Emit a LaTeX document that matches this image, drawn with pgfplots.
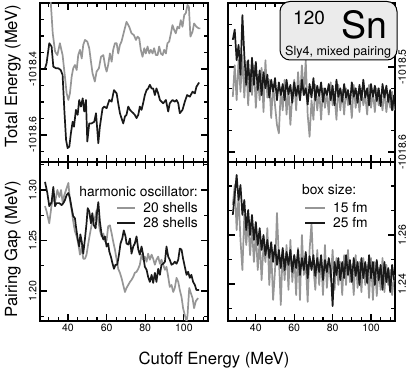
\documentclass[border=0pt]{standalone}
\usepackage{pgfplots}
\pgfplotsset{compat=1.18}
\usepackage{fontspec}
\setmainfont{TeX Gyre Heros}
\definecolor{lgray}{RGB}{150,150,150}
\definecolor{dblack}{RGB}{25,25,25}
\definecolor{boxfill}{RGB}{235,235,235}

\pgfplotsset{
  panel/.style={
    scale only axis, height=159bp, anchor=north west,
    xmin=25.5, xmax=112.5,
    axis line style={line width=1.3bp},
    tick align=inside,
    xtick={40,60,80,100},
    minor xtick={30,35,45,50,55,65,70,75,85,90,95,105,110},
    major tick length=7bp, minor tick length=4bp,
    tick style={line width=1.1bp, black},
    ticklabel style={font=\fontsize{10.5bp}{12bp}\selectfont},
    every axis plot/.append style={line width=1.7bp, line join=round, no markers},
  },
  leftp/.style={yticklabel pos=left, yticklabel style={rotate=90, anchor=south}, xtick pos=both, ytick pos=both},
  rightp/.style={yticklabel pos=right, yticklabel style={rotate=90, anchor=north}, xtick pos=both, ytick pos=both},
  gr/.style={lgray},
  bk/.style={dblack},
}

\begin{document}
\begin{tikzpicture}
\path[use as bounding box] (0,0) rectangle (415bp,370bp);

% top left: total energy, harmonic oscillator basis
\begin{axis}[panel, leftp, at={(40bp,367bp)}, width=168bp,
  ymin=-1018.682, ymax=-1018.2,
  ytick={-1018.6,-1018.4}, yticklabels={-1018.6,-1018.4},
  minor ytick={-1018.65,-1018.55,-1018.5,-1018.45,-1018.35,-1018.3,-1018.25},
  xticklabels={}]
\addplot[gr] coordinates {
(30.5,-1018.05) (31.0,-1018.191) (32.1,-1018.292) (33.3,-1018.347) (34.5,-1018.358)
(35.8,-1018.322) (37.2,-1018.358) (38.4,-1018.423) (39.3,-1018.474) (40.2,-1018.494)
(41.0,-1018.474) (41.9,-1018.423) (42.7,-1018.398) (43.6,-1018.388) (44.5,-1018.403)
(45.3,-1018.358) (46.2,-1018.342) (47.1,-1018.368) (47.9,-1018.327) (48.8,-1018.312)
(50.0,-1018.317) (51.0,-1018.337) (51.9,-1018.378) (52.7,-1018.413) (53.9,-1018.438)
(54.8,-1018.408) (56.0,-1018.398) (57.1,-1018.363) (58.3,-1018.358) (59.3,-1018.393)
(60.0,-1018.408) (60.8,-1018.388) (61.7,-1018.353) (62.6,-1018.378) (63.4,-1018.342)
(64.3,-1018.322) (65.2,-1018.322) (66.0,-1018.353) (66.9,-1018.327) (67.7,-1018.317)
(69.0,-1018.287) (70.3,-1018.257) (71.7,-1018.272) (72.9,-1018.292) (74.1,-1018.297)
(75.2,-1018.312) (76.0,-1018.302) (76.9,-1018.307) (77.7,-1018.342) (78.6,-1018.363)
(79.5,-1018.337) (80.3,-1018.353) (81.2,-1018.332) (82.1,-1018.353) (82.9,-1018.342)
(83.8,-1018.353) (84.6,-1018.337) (85.5,-1018.358) (86.4,-1018.358) (87.2,-1018.332)
(88.1,-1018.353) (89.0,-1018.358) (89.8,-1018.342) (90.7,-1018.353) (91.5,-1018.322)
(92.4,-1018.317) (93.3,-1018.292) (94.1,-1018.267) (95.0,-1018.282) (95.8,-1018.292)
(96.7,-1018.272) (97.6,-1018.277) (98.4,-1018.252) (99.3,-1018.272) (100.2,-1018.236)
(101.0,-1018.231) (101.9,-1018.206) (102.6,-1018.211) (103.4,-1018.302) (104.5,-1018.287)
(105.3,-1018.262) (106.5,-1018.272) (107.7,-1018.277) (108.6,-1018.277)
};
\addplot[bk] coordinates {
(28.1,-1018.398) (28.9,-1018.383) (30.3,-1018.322) (31.5,-1018.332) (32.4,-1018.393)
(33.8,-1018.398) (35.0,-1018.398) (36.2,-1018.403) (37.2,-1018.418) (38.1,-1018.524)
(39.0,-1018.615) (39.8,-1018.640) (40.7,-1018.635) (41.5,-1018.595) (42.4,-1018.560)
(43.1,-1018.575) (44.1,-1018.524) (45.0,-1018.539) (45.8,-1018.494) (46.7,-1018.514)
(47.6,-1018.489) (48.4,-1018.529) (49.3,-1018.494) (50.0,-1018.620) (51.0,-1018.565)
(52.2,-1018.565) (53.6,-1018.560) (54.5,-1018.534) (55.7,-1018.625) (56.5,-1018.575)
(57.9,-1018.519) (58.8,-1018.514) (60.0,-1018.519) (61.4,-1018.494) (62.6,-1018.499)
(63.8,-1018.464) (65.2,-1018.474) (66.0,-1018.504) (66.9,-1018.534) (67.7,-1018.549)
(68.6,-1018.565) (69.5,-1018.544) (70.3,-1018.539) (71.2,-1018.514) (72.1,-1018.524)
(72.9,-1018.529) (73.8,-1018.534) (74.6,-1018.539) (75.5,-1018.549) (76.4,-1018.539)
(77.2,-1018.514) (78.1,-1018.524) (78.9,-1018.504) (79.8,-1018.479) (80.7,-1018.464)
(81.5,-1018.459) (82.4,-1018.448) (83.3,-1018.459) (84.1,-1018.459) (85.0,-1018.479)
(85.8,-1018.459) (86.7,-1018.474) (87.6,-1018.494) (89.3,-1018.504) (90.7,-1018.494)
(91.9,-1018.529) (92.7,-1018.504) (94.1,-1018.494) (95.3,-1018.499) (96.2,-1018.494)
(97.1,-1018.504) (97.9,-1018.534) (99.3,-1018.524) (100.5,-1018.499) (101.7,-1018.479)
(103.1,-1018.484) (104.5,-1018.469) (105.7,-1018.474) (106.5,-1018.454) (107.9,-1018.441)
};
\end{axis}

% top right: total energy, box
\begin{axis}[panel, rightp, at={(228bp,367bp)}, width=167bp,
  ymin=-1018.6117, ymax=-1018.4247,
  ytick={-1018.6,-1018.5}, yticklabels={-1018.6,-1018.5},
  minor ytick={-1018.575,-1018.55,-1018.525,-1018.475,-1018.45},
  xticklabels={}]
\addplot[gr] coordinates {
(28,-1018.535) (29,-1018.498) (30,-1018.539) (31,-1018.492) (32,-1018.529) (33,-1018.486)
(34,-1018.536) (35,-1018.494) (36,-1018.545) (37,-1018.504) (38,-1018.533) (39,-1018.498)
(40,-1018.548) (41,-1018.509) (42,-1018.539) (43,-1018.501) (44,-1018.553) (45,-1018.492)
(46,-1018.536) (47,-1018.515) (48,-1018.560) (49,-1018.521) (50,-1018.545) (51,-1018.568)
(52,-1018.578) (53,-1018.527) (54,-1018.551) (55,-1018.515) (56,-1018.556) (57,-1018.525)
(58,-1018.568) (59,-1018.533) (60,-1018.515) (61,-1018.551) (62,-1018.506) (63,-1018.539)
(64,-1018.498) (65,-1018.533) (66,-1018.492) (67,-1018.556) (68,-1018.582) (69,-1018.539)
(70,-1018.562) (71,-1018.521) (72,-1018.551) (73,-1018.527) (74,-1018.562) (75,-1018.525)
(76,-1018.548) (77,-1018.529) (78,-1018.556) (79,-1018.518) (80,-1018.545) (81,-1018.533)
(82,-1018.562) (83,-1018.521) (84,-1018.551) (85,-1018.527) (86,-1018.556) (87,-1018.525)
(88,-1018.545) (89,-1018.533) (90,-1018.560) (91,-1018.521) (92,-1018.548) (93,-1018.529)
(94,-1018.553) (95,-1018.525) (96,-1018.545) (97,-1018.533) (98,-1018.556) (99,-1018.521)
(100,-1018.548) (101,-1018.529) (102,-1018.553) (103,-1018.525) (104,-1018.545) (105,-1018.533)
(106,-1018.551) (107,-1018.527) (108,-1018.553) (109,-1018.533) (110,-1018.548) (111,-1018.529)
(112,-1018.551)
};
\addplot[bk] coordinates {
(28,-1018.468) (29,-1018.456) (30,-1018.492) (31,-1018.474) (32,-1018.509) (33,-1018.439)
(34,-1018.486) (35,-1018.521) (36,-1018.492) (37,-1018.529) (38,-1018.489) (39,-1018.521)
(40,-1018.494) (41,-1018.527) (42,-1018.504) (43,-1018.533) (44,-1018.506) (45,-1018.525)
(46,-1018.509) (47,-1018.536) (48,-1018.515) (49,-1018.529) (50,-1018.513) (51,-1018.539)
(52,-1018.518) (53,-1018.533) (54,-1018.520) (55,-1018.539) (56,-1018.515) (57,-1018.532)
(58,-1018.521) (59,-1018.542) (60,-1018.518) (61,-1018.534) (62,-1018.522) (63,-1018.539)
(64,-1018.515) (65,-1018.533) (66,-1018.525) (67,-1018.544) (68,-1018.520) (69,-1018.536)
(70,-1018.513) (71,-1018.539) (72,-1018.522) (73,-1018.534) (74,-1018.518) (75,-1018.541)
(76,-1018.525) (77,-1018.533) (78,-1018.520) (79,-1018.539) (80,-1018.522) (81,-1018.545)
(82,-1018.515) (83,-1018.535) (84,-1018.525) (85,-1018.541) (86,-1018.520) (87,-1018.536)
(88,-1018.527) (89,-1018.544) (90,-1018.518) (91,-1018.535) (92,-1018.525) (93,-1018.542)
(94,-1018.521) (95,-1018.539) (96,-1018.515) (97,-1018.536) (98,-1018.525) (99,-1018.545)
(100,-1018.520) (101,-1018.535) (102,-1018.522) (103,-1018.540) (104,-1018.525) (105,-1018.546)
(106,-1018.520) (107,-1018.536) (108,-1018.522) (109,-1018.541) (110,-1018.527) (111,-1018.551)
(112,-1018.533)
};
\end{axis}

% bottom left: pairing gap, harmonic oscillator basis
\begin{axis}[panel, leftp, at={(40bp,208bp)}, width=168bp,
  ymin=1.1703, ymax=1.3277,
  ytick={1.20,1.25,1.30}, yticklabels={1.20,1.25,1.30},
  minor ytick={1.175,1.225,1.275,1.325},
  xticklabels={40,60,80,100}]
\addplot[gr] coordinates {
(28.1,1.284) (28.9,1.279) (30.3,1.267) (31.5,1.285) (32.4,1.292) (33.3,1.288) (34.5,1.300)
(35.5,1.293) (36.4,1.300) (37.2,1.288) (38.1,1.295) (39.0,1.300) (40.2,1.307) (41.0,1.290)
(41.9,1.280) (42.7,1.269) (43.6,1.259) (44.5,1.254) (45.3,1.247) (46.2,1.236) (47.1,1.244)
(47.9,1.232) (48.8,1.232) (49.6,1.236) (50.5,1.247) (51.4,1.257) (52.2,1.265) (53.1,1.269)
(53.9,1.272) (54.8,1.280) (55.7,1.269) (56.5,1.260) (57.4,1.254) (58.3,1.257) (59.1,1.249)
(60.0,1.250) (60.8,1.264) (61.7,1.265) (62.6,1.257) (63.4,1.249) (64.3,1.241) (65.2,1.231)
(66.0,1.222) (66.9,1.218) (67.7,1.213) (68.6,1.206) (69.5,1.199) (70.3,1.203) (71.2,1.206)
(72.1,1.209) (72.9,1.211) (73.8,1.214) (74.6,1.218) (75.5,1.219) (76.4,1.222) (77.2,1.226)
(78.1,1.236) (78.9,1.231) (79.8,1.234) (80.7,1.229) (81.5,1.237) (82.4,1.231) (83.3,1.236)
(84.1,1.232) (85.0,1.226) (85.8,1.231) (86.7,1.234) (87.6,1.227) (88.4,1.231) (89.3,1.226)
(90.2,1.221) (91.0,1.224) (91.9,1.214) (92.7,1.204) (93.6,1.206) (94.5,1.199) (95.3,1.203)
(96.2,1.213) (97.1,1.209) (97.9,1.201) (98.8,1.194) (99.6,1.183) (100.5,1.176) (101.4,1.170)
(101.9,1.176) (102.8,1.203) (103.6,1.198) (104.5,1.193) (105.3,1.183) (106.2,1.190) (107.4,1.193)
};
\addplot[bk] coordinates {
(28.1,1.308) (29.3,1.297) (30.3,1.284) (31.5,1.288) (32.4,1.303) (33.3,1.284) (34.1,1.287)
(35.5,1.287) (36.7,1.285) (37.6,1.287) (38.4,1.290) (39.3,1.295) (40.2,1.297) (41.0,1.292)
(41.9,1.282) (42.7,1.274) (43.6,1.272) (44.1,1.264) (45.0,1.252) (45.8,1.244) (46.4,1.256)
(47.1,1.249) (47.9,1.237) (48.8,1.252) (49.6,1.267) (50.2,1.282) (51.0,1.279) (51.9,1.267)
(52.6,1.277) (53.4,1.265) (54.3,1.262) (54.8,1.274) (55.7,1.288) (56.5,1.269) (57.4,1.256)
(58.3,1.251) (59.1,1.254) (60.0,1.244) (60.8,1.247) (61.4,1.239) (62.2,1.234) (63.1,1.227)
(63.8,1.222) (64.6,1.226) (65.5,1.226) (66.4,1.236) (67.2,1.247) (68.1,1.252) (68.9,1.260)
(69.8,1.254) (70.3,1.247) (71.2,1.246) (72.1,1.252) (72.9,1.237) (73.8,1.244) (74.6,1.247)
(75.5,1.254) (76.4,1.241) (77.2,1.236) (78.1,1.244) (78.9,1.236) (79.8,1.224) (80.7,1.221)
(81.5,1.214) (82.4,1.209) (83.3,1.216) (84.1,1.208) (85.0,1.218) (85.8,1.209) (86.7,1.222)
(87.6,1.216) (88.4,1.226) (89.3,1.227) (90.2,1.229) (91.0,1.244) (91.9,1.234) (92.7,1.231)
(93.6,1.226) (94.5,1.227) (95.3,1.229) (96.2,1.227) (97.1,1.231) (97.9,1.242) (98.8,1.241)
(99.6,1.232) (100.5,1.224) (101.4,1.216) (102.2,1.219) (103.1,1.213) (103.9,1.216) (104.8,1.209)
(105.7,1.206) (106.5,1.201) (107.9,1.201)
};
\end{axis}

% bottom right: pairing gap, box
\begin{axis}[panel, rightp, at={(228bp,208bp)}, width=167bp,
  ymin=1.2249, ymax=1.2898,
  ytick={1.24,1.26}, yticklabels={1.24,1.26},
  minor ytick={1.23,1.25,1.27,1.28},
  xticklabels={40,60,80,100}]
\addplot[gr] coordinates {
(28,1.2722) (29,1.2804) (30,1.2620) (31,1.2763) (32,1.2580) (33,1.2457) (34,1.2682)
(35,1.2559) (36,1.2661) (37,1.2518) (38,1.2628) (39,1.2490) (40,1.2612) (41,1.2457)
(42,1.2580) (43,1.2416) (44,1.2559) (45,1.2490) (46,1.2628) (47,1.2396) (48,1.2539)
(49,1.2335) (50,1.2457) (51,1.2690) (52,1.2506) (53,1.2314) (54,1.2539) (55,1.2416)
(56,1.2559) (57,1.2376) (58,1.2580) (59,1.2408) (60,1.2518) (61,1.2355) (62,1.2547)
(63,1.2335) (64,1.2600) (65,1.2437) (66,1.2490) (67,1.2327) (68,1.2539) (69,1.2649)
(70,1.2465) (71,1.2376) (72,1.2539) (73,1.2396) (74,1.2506) (75,1.2355) (76,1.2559)
(77,1.2384) (78,1.2490) (79,1.2416) (80,1.2539) (81,1.2376) (82,1.2506) (83,1.2396)
(84,1.2490) (85,1.2355) (86,1.2518) (87,1.2396) (88,1.2539) (89,1.2408) (90,1.2478)
(91,1.2355) (92,1.2518) (93,1.2384) (94,1.2490) (95,1.2367) (96,1.2506) (97,1.2396)
(98,1.2478) (99,1.2343) (100,1.2506) (101,1.2335) (102,1.2490) (103,1.2351) (104,1.2465)
(105,1.2376) (106,1.2506) (107,1.2367) (108,1.2478) (109,1.2396) (110,1.2457) (111,1.2355)
(112,1.2437)
};
\addplot[bk] coordinates {
(28,1.2682) (29,1.2763) (30,1.2845) (31,1.2743) (32,1.2804) (33,1.2682) (34,1.2743)
(35,1.2620) (36,1.2702) (37,1.2600) (38,1.2682) (39,1.2580) (40,1.2653) (41,1.2559)
(42,1.2628) (43,1.2539) (44,1.2600) (45,1.2518) (46,1.2580) (47,1.2506) (48,1.2571)
(49,1.2490) (50,1.2559) (51,1.2478) (52,1.2539) (53,1.2465) (54,1.2547) (55,1.2457)
(56,1.2531) (57,1.2478) (58,1.2539) (59,1.2449) (60,1.2518) (61,1.2465) (62,1.2539)
(63,1.2437) (64,1.2506) (65,1.2457) (66,1.2531) (67,1.2424) (68,1.2514) (69,1.2457)
(70,1.2518) (71,1.2433) (72,1.2506) (73,1.2449) (74,1.2518) (75,1.2416) (76,1.2498)
(77,1.2449) (78,1.2506) (79,1.2457) (80,1.2310) (81,1.2490) (82,1.2437) (83,1.2506)
(84,1.2416) (85,1.2490) (86,1.2424) (87,1.2518) (88,1.2437) (89,1.2498) (90,1.2408)
(91,1.2506) (92,1.2433) (93,1.2490) (94,1.2396) (95,1.2506) (96,1.2424) (97,1.2490)
(98,1.2404) (99,1.2518) (100,1.2424) (101,1.2490) (102,1.2396) (103,1.2498) (104,1.2416)
(105,1.2478) (106,1.2376) (107,1.2490) (108,1.2408) (109,1.2465) (110,1.2367) (111,1.2478)
(112,1.2416)
};
\end{axis}

% axis titles
\node[rotate=90, anchor=base, inner sep=0, font=\fontsize{16.7bp}{19bp}\selectfont] at (17bp,294bp) {Total Energy (MeV)};
\node[rotate=90, anchor=base, inner sep=0, font=\fontsize{16.7bp}{19bp}\selectfont] at (17bp,121bp) {Pairing Gap (MeV)};
\node[anchor=base, inner sep=0, font=\fontsize{16.7bp}{19bp}\selectfont] at (214bp,6bp) {Cutoff Energy (MeV)};

% legend, harmonic oscillator
\node[anchor=base east, inner sep=0, font=\fontsize{13.8bp}{15bp}\selectfont] at (198bp,173bp) {harmonic oscillator:};
\node[anchor=base east, inner sep=0, font=\fontsize{13.8bp}{15bp}\selectfont] at (198bp,157bp) {20 shells};
\node[anchor=base east, inner sep=0, font=\fontsize{13.8bp}{15bp}\selectfont] at (198bp,142bp) {28 shells};
\draw[lgray, line width=1.7bp] (117bp,162bp) -- (135bp,162bp);
\draw[dblack, line width=1.7bp] (117bp,147bp) -- (135bp,147bp);

% legend, box
\node[anchor=base west, inner sep=0, font=\fontsize{13.8bp}{15bp}\selectfont] at (302bp,175bp) {box size:};
\node[anchor=base west, inner sep=0, font=\fontsize{13.8bp}{15bp}\selectfont] at (333bp,157bp) {15 fm};
\node[anchor=base west, inner sep=0, font=\fontsize{13.8bp}{15bp}\selectfont] at (333bp,142bp) {25 fm};
\draw[lgray, line width=1.7bp] (305bp,162bp) -- (325bp,162bp);
\draw[dblack, line width=1.7bp] (305bp,147bp) -- (325bp,147bp);

% nucleus label
\draw[fill=boxfill, line width=1bp, rounded corners=10bp] (280bp,310bp) rectangle (397bp,368.5bp);
\node[anchor=base west, inner sep=0, font=\fontsize{19bp}{21bp}\selectfont] at (293bp,345bp) {120};
\node[anchor=base west, inner sep=0, font=\fontsize{37.5bp}{40bp}\selectfont] at (341bp,331bp) {Sn};
\node[anchor=base west, inner sep=0, font=\fontsize{12.6bp}{14bp}\selectfont] at (285bp,314.5bp) {Sly4, mixed pairing};
\end{tikzpicture}
\end{document}
